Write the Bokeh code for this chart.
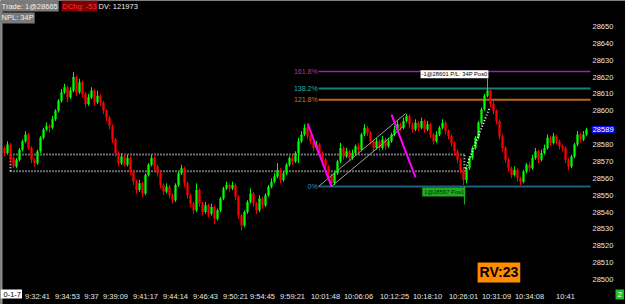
from bokeh.plotting import figure
from bokeh.models import Range1d, FixedTicker, Label, ColumnDataSource
from bokeh.embed import file_html
from bokeh.resources import INLINE

# ---------------- data ----------------
first_open = 28578
closes = [
    28575, 28580, 28572, 28567, 28571, 28577, 28582, 28586, 28578, 28571,
    28569, 28576, 28584, 28589, 28591, 28590, 28595, 28600, 28606, 28611,
    28614, 28608, 28612, 28620, 28611, 28617, 28610, 28604, 28608, 28612,
    28605, 28609, 28605, 28600, 28596, 28591, 28583, 28575, 28569, 28573,
    28568, 28572, 28564, 28558, 28553, 28557, 28551, 28562, 28568, 28572,
    28567, 28563, 28556, 28552, 28555, 28550, 28547, 28556, 28563, 28566,
    28557, 28550, 28545, 28541, 28553, 28545, 28540, 28544, 28539, 28543,
    28536, 28541, 28548, 28554, 28556, 28554, 28556, 28549, 28538, 28532,
    28540, 28546, 28551, 28545, 28541, 28548, 28544, 28550, 28555, 28558,
    28561, 28565, 28559, 28563, 28568, 28572, 28570, 28575, 28582, 28586,
    28590, 28585, 28582, 28578, 28580, 28575, 28571, 28567, 28562, 28557,
    28563, 28570, 28578, 28573, 28576, 28572, 28575, 28579, 28577, 28586,
    28590, 28587, 28582, 28578, 28582, 28578, 28583, 28579, 28582, 28586,
    28589, 28592, 28590, 28594, 28597, 28592, 28589, 28593, 28590, 28594,
    28589, 28592, 28586, 28582, 28586, 28590, 28593, 28588, 28585, 28581,
    28576, 28571, 28565, 28559, 28566, 28572, 28578, 28584, 28593, 28601,
    28609, 28612, 28604, 28600, 28594, 28585, 28578, 28571, 28566, 28562,
    28565, 28560, 28558, 28564, 28568, 28566, 28572, 28576, 28571, 28575,
    28578, 28584, 28581, 28585, 28582, 28579, 28578, 28571, 28567, 28573,
    28580, 28586, 28583, 28586, 28589,
]
highs = [
    28579, 28582, 28581, 28573, 28572, 28578, 28583, 28588, 28587, 28579,
    28572, 28577, 28585, 28590, 28593, 28592, 28597, 28601, 28607, 28613,
    28616, 28615, 28614, 28623, 28621, 28619, 28618, 28611, 28610, 28614,
    28613, 28612, 28610, 28606, 28601, 28597, 28592, 28584, 28576, 28575,
    28574, 28574, 28573, 28565, 28559, 28559, 28558, 28563, 28569, 28574,
    28573, 28568, 28564, 28557, 28557, 28556, 28551, 28557, 28564, 28568,
    28567, 28558, 28551, 28546, 28557, 28554, 28546, 28546, 28545, 28545,
    28544, 28542, 28549, 28555, 28558, 28557, 28558, 28557, 28550, 28539,
    28541, 28547, 28554, 28552, 28546, 28550, 28549, 28551, 28556, 28560,
    28563, 28569, 28566, 28564, 28569, 28573, 28574, 28576, 28584, 28588,
    28592, 28591, 28586, 28583, 28582, 28581, 28576, 28572, 28568, 28563,
    28564, 28571, 28581, 28579, 28578, 28577, 28577, 28580, 28581, 28587,
    28592, 28591, 28588, 28583, 28584, 28583, 28585, 28584, 28584, 28587,
    28591, 28594, 28593, 28596, 28598, 28598, 28593, 28595, 28594, 28596,
    28595, 28594, 28593, 28587, 28588, 28591, 28595, 28594, 28589, 28586,
    28582, 28577, 28572, 28566, 28567, 28573, 28579, 28585, 28594, 28602,
    28610, 28614, 28613, 28606, 28601, 28595, 28586, 28579, 28572, 28567,
    28567, 28566, 28561, 28565, 28569, 28570, 28574, 28578, 28577, 28577,
    28580, 28586, 28585, 28587, 28586, 28583, 28580, 28579, 28572, 28574,
    28581, 28588, 28587, 28588, 28590,
]
lows = [
    28573, 28574, 28570, 28566, 28566, 28570, 28576, 28581, 28577, 28569,
    28567, 28568, 28575, 28583, 28588, 28587, 28589, 28594, 28599, 28605,
    28610, 28605, 28607, 28611, 28609, 28610, 28608, 28602, 28603, 28607,
    28603, 28604, 28603, 28598, 28594, 28589, 28581, 28573, 28567, 28568,
    28567, 28567, 28562, 28556, 28551, 28552, 28549, 28550, 28561, 28567,
    28565, 28561, 28554, 28550, 28551, 28548, 28545, 28546, 28555, 28562,
    28555, 28548, 28543, 28539, 28540, 28543, 28538, 28539, 28537, 28538,
    28533, 28535, 28540, 28547, 28553, 28552, 28553, 28547, 28536, 28529,
    28531, 28539, 28545, 28543, 28539, 28540, 28542, 28543, 28549, 28554,
    28557, 28560, 28557, 28558, 28562, 28567, 28568, 28569, 28569, 28581,
    28585, 28583, 28580, 28576, 28577, 28573, 28569, 28565, 28560, 28556,
    28556, 28562, 28569, 28571, 28572, 28570, 28571, 28574, 28575, 28576,
    28585, 28585, 28580, 28576, 28577, 28576, 28577, 28577, 28578, 28581,
    28585, 28588, 28588, 28589, 28593, 28590, 28587, 28588, 28588, 28589,
    28587, 28588, 28584, 28580, 28581, 28585, 28589, 28586, 28583, 28579,
    28574, 28569, 28563, 28556, 28557, 28565, 28571, 28577, 28583, 28592,
    28600, 28608, 28602, 28598, 28592, 28583, 28576, 28569, 28564, 28560,
    28561, 28558, 28556, 28557, 28563, 28564, 28565, 28571, 28569, 28570,
    28574, 28577, 28579, 28580, 28580, 28577, 28576, 28569, 28565, 28566,
    28572, 28579, 28581, 28582, 28585,
]

tick_idx = [11, 21, 29, 37, 47, 57, 67, 77, 86, 96, 107, 118, 130, 141, 153, 164, 175, 187]
tick_labels = ["9:32:41", "9:34:53", "9:37", "9:39:09", "9:41:17", "9:44:14", "9:46:43",
               "9:50:21", "9:54:45", "9:59:21", "10:01:48", "10:06:06", "10:12:25",
               "10:18:10", "10:26:01", "10:31:09", "10:34:08", "10:41"]
price_ticks = [28500, 28510, 28520, 28530, 28540, 28550, 28560, 28570, 28580,
               28600, 28610, 28620, 28630, 28640, 28650]
last_price = 28589

fib_names = ["0%", "121.8%", "138.2%", "161.8%"]
fib_prices = [28555.2, 28606.5, 28613.2, 28623.3]
fib_start = 104.7

band_prices = [28574.1, 28564.2]
band_start, band_end = 2, 153.3

magenta_x0 = [101, 129]
magenta_y0 = [28592.5, 28597.8]
magenta_x1 = [109, 137]
magenta_y1 = [28555.2, 28560.5]

channel_x0 = [104.7, 109]
channel_y0 = [28555.2, 28555.2]
channel_x1 = [133.7, 133.3]
channel_y1 = [28598.4, 28591.3]

exit_x = [153.7, 161.7]
exit_y = [28565.8, 28602.0]

# ---------------- figure ----------------
FONT = "Liberation Sans"
PX = 3.0                      # pixels per bar
x0 = -1.333
x1 = x0 + 625 / PX            # frame spans whole canvas
chart_right = x0 + 590 / PX   # right edge of the price pane
y0, y1 = 28485.2, 28665.4

p = figure(width=625, height=304, x_range=Range1d(x0, x1), y_range=Range1d(y0, y1),
           output_backend="svg", toolbar_location=None, y_axis_location="right",
           min_border_left=0, min_border_right=0, min_border_top=0, min_border_bottom=0,
           background_fill_color="black", border_fill_color="black")
p.grid.visible = False
p.outline_line_color = None

for ax in (p.xaxis[0], p.yaxis[0]):
    ax.axis_line_color = None
    ax.major_tick_line_color = None
    ax.minor_tick_line_color = None
    ax.major_tick_out = 0
    ax.major_tick_in = 0
    ax.major_label_text_color = "#e6e6e6"
    ax.major_label_text_font = FONT
    ax.major_label_text_font_size = "7.5px"
p.xaxis[0].ticker = FixedTicker(ticks=tick_idx)
p.xaxis[0].major_label_overrides = {i: t for i, t in zip(tick_idx, tick_labels)}
p.xaxis[0].major_label_standoff = -13
p.yaxis[0].ticker = FixedTicker(ticks=price_ticks)
p.yaxis[0].major_label_standoff = -33

# candles
opens = [first_open] + closes[:-1]
idx = list(range(len(closes)))
cols = ["#00ff00" if c >= o else "#ff0000" for o, c in zip(opens, closes)]
src = ColumnDataSource(dict(x=idx, h=highs, l=lows,
                            top=[max(o, c) for o, c in zip(opens, closes)],
                            bot=[min(o, c) for o, c in zip(opens, closes)], col=cols))

# left border line
p.segment([x0 + 1 / PX], [y0], [x0 + 1 / PX], [y1], line_color="#8c8c8c", line_width=2)

# dotted band
for bp in band_prices:
    p.segment(band_start, bp, band_end, bp, line_color="#d8d8d8", line_width=2, line_dash="1 2")
p.segment([band_start, band_end], [band_prices[1]] * 2, [band_start, band_end], [band_prices[0]] * 2,
          line_color="#d8d8d8", line_width=2, line_dash="1 2")

# fib lines
fib_cols = ["#1f5f80", "#c0651a", "#138080", "#a020a8"]
fib_text_cols = ["#3a90c0", "#d07020", "#30b0b0", "#b030b8"]
for name, fp, fc, tc in zip(fib_names, fib_prices, fib_cols, fib_text_cols):
    p.segment(fib_start, fp, chart_right, fp, line_color=fc, line_width=2 if name != "161.8%" else 1.5)
    p.add_layout(Label(x=fib_start - 0.3, y=fp, text=name, text_align="right", text_baseline="middle",
                       text_color=tc, text_font=FONT, text_font_size="7px"))

p.segment("x", "h", "x", "l", source=src, line_color="col", line_width=1)
p.vbar(x="x", width=0.75, top="top", bottom="bot", source=src, fill_color="col", line_color=None)

# drawings
p.segment(channel_x0, channel_y0, channel_x1, channel_y1, line_color="#a0a0a0", line_width=1)
p.segment(magenta_x0, magenta_y0, magenta_x1, magenta_y1, line_color="#ff00ff", line_width=2)
p.line(exit_x, exit_y, line_color="#ffffff", line_width=2, line_dash="1 2")

# trade markers
p.segment([161], [28619.2], [161], [28613.8], line_color="#909090", line_width=1)
p.add_layout(Label(x=161.3, y=28619.3, text="-1@28601 P/L: 34P Pos0", text_align="right",
                   text_baseline="bottom", text_color="black", text_font=FONT, text_font_size="5.8px",
                   background_fill_color="white", padding=1))
p.segment([153.3], [28555.2], [153.3], [28544.5], line_color="#20c020", line_width=1)
p.add_layout(Label(x=153.6, y=28554.6, text="1@28567 Pos1", text_align="right",
                   text_baseline="top", text_color="#003000", text_font=FONT, text_font_size="5.8px",
                   background_fill_color="#22aa22", padding=(2, 1, 2, 1)))

# info boxes top left
p.add_layout(Label(x=-1.3, y=y1, text="Trade: 1@28665", text_align="left", text_baseline="top",
                   text_color="#f0f0f0", text_font=FONT, text_font_size="7.5px",
                   background_fill_color="#7a7a7a", padding=1))
p.add_layout(Label(x=19, y=y1, text="DChg: -53", text_align="left", text_baseline="top",
                   text_color="#ff3030", text_font=FONT, text_font_size="7.5px",
                   background_fill_color="#800000", padding=1))
p.add_layout(Label(x=31, y=y1, text="DV: 121973", text_align="left", text_baseline="top",
                   text_color="#f0f0f0", text_font=FONT, text_font_size="7.5px", padding=1))
p.add_layout(Label(x=-1.3, y=28658.3, text="NPL: 34P", text_align="left", text_baseline="top",
                   text_color="#f0f0f0", text_font=FONT, text_font_size="7.5px",
                   background_fill_color="#7a7a7a", padding=1))

# RV box
p.add_layout(Label(x=157.7, y=28504.2, text="RV:23", text_align="left", text_baseline="middle",
                   text_color="black", text_font=FONT, text_font_size="14px", text_font_style="bold",
                   background_fill_color="#ff8c00", padding=2))

# current price tag on axis
p.add_layout(Label(x=chart_right + 0.4, y=last_price, text=str(last_price), text_align="left",
                   text_baseline="middle", text_color="white", text_font=FONT, text_font_size="7.5px",
                   background_fill_color="#0a0ae0", padding=1))

# corner labels
p.add_layout(Label(x=x0, y=28494.1, text="0-1-7", text_align="left", text_baseline="top",
                   text_color="black", text_font=FONT, text_font_size="7.5px",
                   background_fill_color="white", padding=(3, 1, 3, 1)))
p.add_layout(Label(x=x0 + 615 / PX, y=28494.1, text="2", text_align="left", text_baseline="top",
                   text_color="white", text_font=FONT, text_font_size="8px",
                   background_fill_color="#20c020", padding=(2, 2, 3, 2)))

open("out.html", "w").write(file_html(p, INLINE))
